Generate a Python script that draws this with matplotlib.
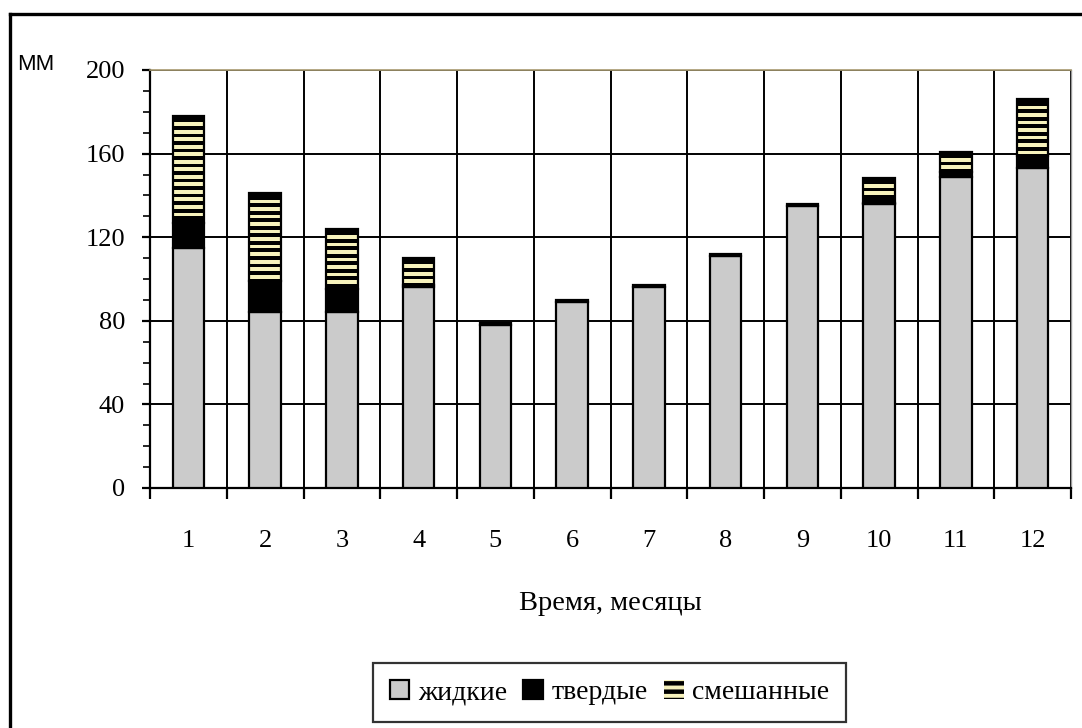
import numpy as np
import matplotlib.pyplot as plt
from matplotlib.patches import Patch
from matplotlib.lines import Line2D

# осадки по месяцам, мм
months = [1, 2, 3, 4, 5, 6, 7, 8, 9, 10, 11, 12]
liquid = [115, 84, 84, 96, 78, 89, 96, 111, 135, 136, 149, 153]
solid = [12, 15, 11, 1, 1, 1, 1, 1, 1, 0.5, 2, 6]
mixed = [51, 42, 29, 13, 0, 0, 0, 0, 0, 12, 10, 27]
labels = ['жидкие', 'твердые', 'смешанные']

grey = '#cbcbcb'
cream = '#f7f2bc'
serif = 'Liberation Serif'

plt.rcParams['hatch.linewidth'] = 2.8

fig = plt.figure(figsize=(10.82, 7.28), dpi=100)
ax = fig.add_axes([150 / 1082, 1 - 488 / 728, 921 / 1082, 418 / 728])

x = np.array(months)
w = 0.41
liquid = np.array(liquid, dtype=float)
solid = np.array(solid, dtype=float)
mixed = np.array(mixed, dtype=float)

ax.bar(x, liquid, w, color=grey, edgecolor='black', linewidth=1.6, zorder=3)
ax.bar(x, solid, w, bottom=liquid, color='black', edgecolor='black',
       linewidth=1.6, zorder=3)

# смешанные: черный столбик со светлыми горизонтальными полосами
step, band = 3.6, 1.8
for xi, base, h in zip(x, liquid + solid, mixed):
    if h <= 0:
        continue
    ax.bar(xi, h, w, bottom=base, color='black', linewidth=0, zorder=3)
    y = base + h - 3.0 - band
    while y > base + 0.5:
        ax.bar(xi, band, w, bottom=y, color=cream, linewidth=0, zorder=3.5)
        y -= step
    ax.bar(xi, h, w, bottom=base, fill=False, edgecolor='black',
           linewidth=1.6, zorder=4)

ax.set_xlim(0.5, 12.5)
ax.set_ylim(0, 200)

ax.set_xticks(x)
ax.set_xticklabels([str(m) for m in months], fontfamily=serif, fontsize=19)
ax.set_xticks(np.arange(0.5, 12.6, 1), minor=True)
ax.tick_params(axis='x', which='major', length=0, pad=30)
ax.tick_params(axis='x', which='minor', length=8, width=1.6, direction='out')

ax.set_yticks(np.arange(0, 201, 40))
ax.set_yticklabels([str(v) for v in range(0, 201, 40)], fontfamily=serif, fontsize=19)
ax.set_yticks(np.arange(0, 201, 10), minor=True)
ax.tick_params(axis='y', which='major', length=6, width=1.6, pad=12)
ax.tick_params(axis='y', which='minor', length=5, width=1.2)

ax.grid(True, axis='y', which='major', color='black', linewidth=1.4)
ax.grid(True, axis='x', which='minor', color='black', linewidth=1.4)
ax.set_axisbelow(True)

ax.spines['left'].set_linewidth(1.6)
ax.spines['bottom'].set_linewidth(1.6)
ax.spines['top'].set_color('#a89a70')
ax.spines['top'].set_linewidth(1.2)
ax.spines['right'].set_color('#9a9a9a')
ax.spines['right'].set_linewidth(1.0)

ax.set_xlabel('Время, месяцы', fontfamily=serif, fontsize=20.5, labelpad=28)
fig.text(17 / 1082, 1 - 64 / 728, 'MM', fontfamily='Liberation Sans',
         fontsize=16, va='center', ha='left')

handles = [
    Patch(facecolor=grey, edgecolor='black', linewidth=1.6),
    Patch(facecolor='black', edgecolor='black', linewidth=1.6),
    Patch(facecolor='black', edgecolor=cream, hatch='--', linewidth=0),
]
leg = fig.legend(handles, labels, loc='center', ncol=3,
                 bbox_to_anchor=(609.5 / 1082, 1 - 692.5 / 728),
                 prop={'family': serif, 'size': 20},
                 handlelength=0.7, handleheight=0.7, handletextpad=0.3,
                 columnspacing=0.6, borderpad=0.6, fancybox=False,
                 frameon=True, edgecolor='black')
leg.get_frame().set_linewidth(1.6)

# рамка рисунка
fig.add_artist(Line2D([10 / 1082, 1.0], [1 - 14 / 728] * 2,
                      transform=fig.transFigure, color='black', linewidth=2.4))
fig.add_artist(Line2D([10 / 1082] * 2, [0.0, 1 - 14 / 728],
                      transform=fig.transFigure, color='black', linewidth=2.4))

fig.savefig('out.png', dpi=100)
